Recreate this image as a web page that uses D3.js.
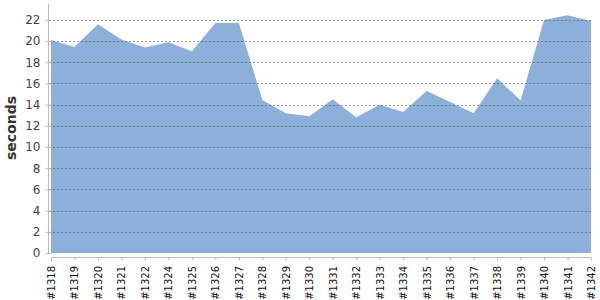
<!DOCTYPE html>
<html>
<head>
<meta charset="utf-8">
<script src="https://cdn.jsdelivr.net/npm/d3@7"></script>
<style>
  body { margin: 0; background: #fff; }
  svg { display: block; }
  svg text { font-family: "DejaVu Sans", sans-serif; }
</style>
</head>
<body>
<svg id="chart" width="600" height="300"></svg>
<script>
// build numbers (x categories)
const builds = ["#1318","#1319","#1320","#1321","#1322","#1324","#1325","#1326","#1327","#1328","#1329","#1330",
  "#1331","#1332","#1333","#1334","#1335","#1336","#1337","#1338","#1339","#1340","#1341","#1342"];
// duration in seconds
const seconds = [20.1,19.45,21.6,20.15,19.4,19.9,19.05,21.7,21.7,14.45,13.2,12.9,
  14.5,12.8,14.0,13.3,15.3,14.25,13.2,16.5,14.4,22.0,22.45,21.9];
const yTicks = [0,2,4,6,8,10,12,14,16,18,20,22];

const W = 600, H = 300;
const SVG = d3.select("#chart");
const Data = builds.map((b,i)=>({build:b, value:seconds[i]}));

const X = d3.scalePoint().domain(builds).range([51,591]);
const Y = d3.scaleLinear().domain([0,23.5]).range([253,4]);

// area
SVG.append("path")
  .datum(Data)
  .attr("fill","#8db0da")
  .attr("d", d3.area()
    .x(d=>X(d.build))
    .y0(Y(0))
    .y1(d=>Y(d.value)));

// grid lines
SVG.append("g")
  .selectAll("line")
  .data(yTicks.filter(t=>t>0))
  .join("line")
  .attr("x1",49).attr("x2",591)
  .attr("y1",d=>Math.round(Y(d))+0.5).attr("y2",d=>Math.round(Y(d))+0.5)
  .attr("stroke","#555")
  .attr("stroke-opacity",0.55)
  .attr("stroke-dasharray","2,2");

// y axis
const yg = SVG.append("g")
  .attr("transform","translate(48.5,0)")
  .call(d3.axisLeft(Y).tickValues(yTicks).tickSize(3).tickPadding(5))
  .attr("font-family",null);
yg.select(".domain").attr("stroke","#bbb").attr("d","M0,4V253");
yg.selectAll(".tick line").attr("stroke","#bbb").attr("x2",3).attr("x1",-3);
yg.selectAll("text").attr("fill","#444").style("font-size","12px");

// x axis
const xg = SVG.append("g")
  .attr("transform","translate(0,257.5)")
  .call(d3.axisBottom(X).tickSize(3).tickPadding(0))
  .attr("font-family",null);
xg.select(".domain").attr("stroke","#bbb").attr("d","M51,0H591");
xg.selectAll(".tick line").attr("stroke","#bbb");
xg.selectAll("text")
  .attr("fill","#111")
  .style("font-size","10px")
  .attr("text-anchor","end")
  .attr("dy","0.35em")
  .attr("transform","translate(0,8.5) rotate(-90)")
  .attr("x",0).attr("y",0);

// y label
SVG.append("text")
  .attr("transform","translate(16,128) rotate(-90)")
  .attr("text-anchor","middle")
  .attr("fill","#333")
  .style("font-size","14px")
  .style("font-weight","bold")
  .text("seconds");
</script>
</body>
</html>
